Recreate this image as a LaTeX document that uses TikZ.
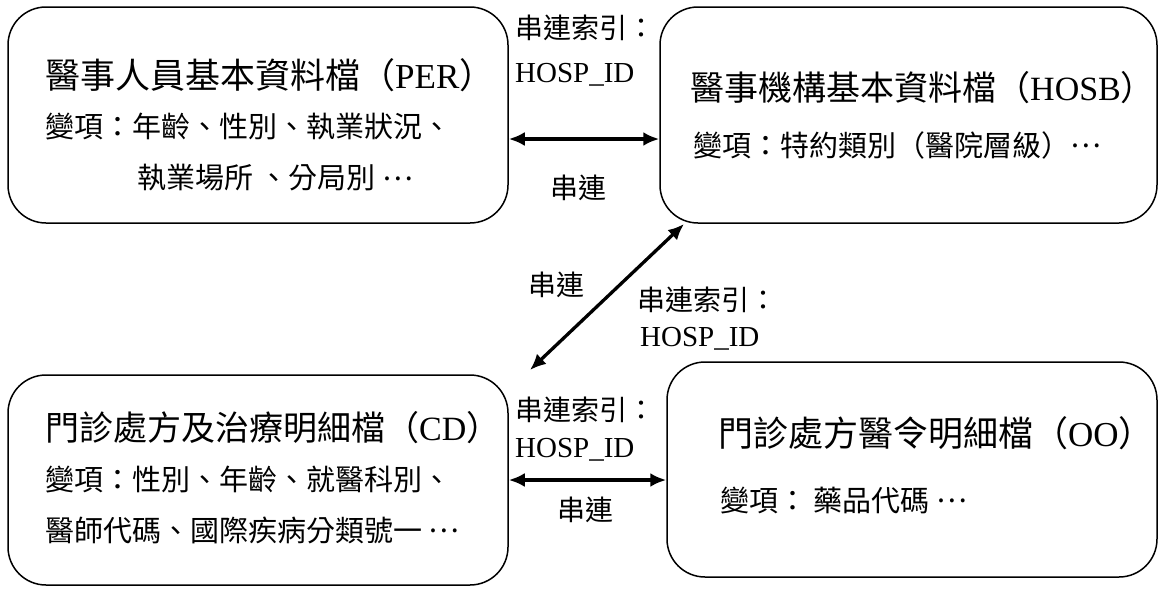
\documentclass[tikz,border=0pt]{standalone}
\usepackage{fontspec}
\setmainfont{Noto Sans CJK TC}
\newfontfamily\lat{Liberation Serif}
\usetikzlibrary{arrows.meta}
\newcommand{\middots}{\raisebox{0.3em}{…}}
\begin{document}
\begin{tikzpicture}[x=1pt,y=-1pt,
  box/.style={draw=black, line width=1.5pt, rounded corners=38pt, inner sep=0pt},
  conn/.style={line width=3.3pt, {Latex[length=16pt,width=14pt]}-{Latex[length=16pt,width=14pt]}},
  ttl/.style={anchor=west, inner sep=0pt, font=\fontsize{35}{40}\selectfont},
  var/.style={anchor=west, inner sep=0pt, font=\fontsize{29}{34}\selectfont},
  lbl/.style={anchor=west, inner sep=0pt, font=\fontsize{28}{32}\selectfont},
  lblc/.style={inner sep=0pt, font=\fontsize{28}{32}\selectfont},
  idl/.style={anchor=west, inner sep=0pt, font=\lat\fontsize{29}{34}\selectfont}]
\useasboundingbox[fill=white] (0,0) rectangle (1160,590);

% boxes
\node[box, minimum width=500pt, minimum height=216pt] (per) at (258,115) {};
\node[box, minimum width=497pt, minimum height=216pt] (hosb) at (908.5,115) {};
\node[box, minimum width=500pt, minimum height=210pt] (cd) at (258,480) {};
\node[box, minimum width=490pt, minimum height=215pt] (oo) at (912,469.5) {};

% PER text
\node[ttl] (perT) at (45,75) {醫事人員基本資料檔（{\lat PER}）};
\node[var] (perV1) at (45,127) {變項：年齡、性別、執業狀況、};
\node[var] (perV2) at (137,178) {執業場所 、分局別 \middots};

% HOSB text
\node[ttl, font=\fontsize{34}{40}\selectfont] (hosbT) at (690,88) {醫事機構基本資料檔（{\lat HOSB}）};
\node[var] (hosbV) at (693,145) {變項：特約類別（醫院層級）\middots};

% CD text
\node[ttl, font=\fontsize{34}{40}\selectfont] (cdT) at (45,428) {門診處方及治療明細檔（{\lat CD}）};
\node[var] (cdV1) at (45,480) {變項：性別、年齡、就醫科別、};
\node[var] (cdV2) at (45,530) {醫師代碼、國際疾病分類號一 \middots};

% OO text
\node[ttl] (ooT) at (718,433) {門診處方醫令明細檔（{\lat OO}）};
\node[var] (ooV) at (720,500) {變項： 藥品代碼 \middots};

% connectors
\coordinate (d1) at (684,224);
\coordinate (d2) at (530,370);
\draw[conn] (per.east |- 0,139) -- (hosb.west |- 0,139);
\draw[conn] (cd.east |- 0,480) -- (oo.west |- 0,480);
\draw[conn] (d1) -- (d2);

% labels top
\node[lbl] (l1a) at (515,28) {串連索引：};
\node[idl] (l1b) at (515,75) {HOSP\_ID};
\node[lblc] (l1c) at (578,188) {串連};

% labels middle
\node[lblc] (l2c) at (556,285) {串連};
\node[lbl] (l2a) at (637,300) {串連索引：};
\node[idl] (l2b) at (640,339) {HOSP\_ID};

% labels bottom
\node[lbl] (l3a) at (515,410) {串連索引：};
\node[idl] (l3b) at (515,450) {HOSP\_ID};
\node[lblc] (l3c) at (585,510) {串連};
\end{tikzpicture}
\end{document}
